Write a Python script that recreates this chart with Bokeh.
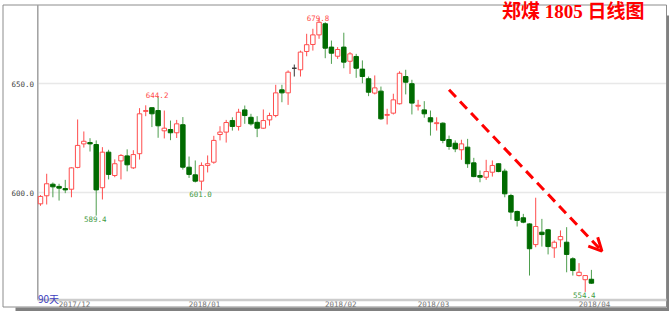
from bokeh.plotting import figure
from bokeh.models import Range1d, Arrow, OpenHead, ColumnDataSource
from bokeh.embed import file_html
from bokeh.resources import INLINE
from bokeh.core.properties import value

# ---------------- data ----------------
opens = [594.8, 598.5, 603.8, 602.8, 601.8, 601.5, 611.5, 622.3, 622.9, 622.0,
         602.2, 618.5, 607.8, 614.5, 616.8, 611.3, 617.8, 637.2, 638.9, 637.6,
         628.3, 628.9, 627.4, 631.1, 611.6, 608.1, 605.2, 612.4, 613.9, 626.6,
         627.7, 633.0, 630.3, 637.9, 634.5, 632.2, 629.5, 633.3, 635.3, 647.1,
         645.7, 657.0, 656.3, 664.7, 667.9, 672.3, 677.4, 666.7, 662.5, 666.7,
         660.2, 662.4, 656.6, 652.2, 645.6, 646.5, 635.4, 636.4, 640.7, 653.2,
         649.9, 639.6, 637.9, 634.3, 631.6, 631.8, 624.3, 622.6, 619.6, 620.8,
         613.6, 607.8, 607.0, 609.3, 613.2, 609.8, 598.6, 591.3, 588.4, 585.6,
         576.1, 581.8, 582.9, 574.6, 578.3, 577.2, 569.6, 561.9, 560.0, 560.2]
closes = [598.2, 604.0, 602.6, 602.0, 601.2, 611.3, 621.6, 623.5, 622.3, 601.2,
          618.5, 608.3, 613.2, 617.0, 612.7, 617.4, 636.1, 637.6, 636.1, 630.6,
          629.5, 627.4, 631.5, 611.6, 608.3, 605.2, 612.4, 613.2, 623.9, 627.7,
          632.1, 630.3, 636.8, 635.3, 631.5, 629.5, 633.0, 635.3, 645.7, 645.7,
          655.2, 657.0, 664.4, 667.8, 672.3, 678.1, 666.2, 663.9, 665.6, 659.8,
          663.6, 657.0, 653.2, 646.0, 648.0, 633.8, 635.8, 642.5, 654.7, 650.6,
          641.0, 640.0, 636.1, 632.4, 632.0, 623.9, 621.1, 620.0, 622.3, 613.2,
          607.3, 607.0, 609.6, 612.4, 609.6, 599.4, 591.0, 587.2, 586.4, 574.2,
          584.4, 580.7, 575.2, 577.2, 579.8, 571.6, 564.2, 563.4, 561.9, 558.4]
highs = [598.8, 608.6, 604.6, 604.0, 605.8, 611.6, 633.5, 628.0, 624.9, 623.9,
         620.8, 619.6, 615.2, 617.6, 619.8, 619.4, 638.7, 640.0, 639.0, 644.2,
         637.6, 633.0, 633.3, 634.6, 616.5, 614.7, 613.8, 617.0, 626.0, 630.4,
         633.3, 634.5, 638.4, 639.9, 636.1, 635.0, 638.1, 636.6, 649.4, 649.4,
         656.0, 658.7, 665.1, 672.8, 675.1, 679.8, 678.1, 669.7, 666.7, 673.3,
         664.4, 663.6, 660.6, 653.2, 653.7, 648.6, 638.4, 645.3, 655.6, 656.3,
         651.7, 642.5, 641.9, 637.6, 634.5, 632.2, 626.1, 623.9, 624.2, 624.6,
         615.9, 610.1, 615.0, 614.7, 613.4, 610.9, 599.4, 591.7, 590.2, 585.9,
         597.6, 587.9, 583.3, 578.0, 582.6, 584.1, 570.3, 567.6, 561.9, 564.5]
lows = [593.9, 594.5, 597.8, 596.3, 599.7, 597.8, 611.1, 620.6, 618.8, 589.4,
        596.8, 606.0, 607.0, 606.0, 609.7, 610.8, 615.1, 635.0, 630.0, 625.1,
        624.8, 624.0, 625.0, 610.5, 606.7, 604.6, 601.0, 609.2, 613.2, 623.9,
        622.9, 628.4, 628.4, 631.5, 630.7, 625.4, 629.2, 630.7, 634.5, 641.4,
        640.2, 653.2, 653.2, 662.5, 665.1, 670.5, 661.6, 659.0, 661.3, 657.0,
        654.4, 652.6, 650.1, 644.2, 645.0, 633.3, 631.2, 635.8, 640.4, 645.0,
        635.8, 637.6, 634.3, 626.1, 628.4, 622.6, 619.6, 618.5, 615.0, 611.3,
        607.0, 604.7, 605.8, 607.3, 609.3, 597.8, 587.5, 584.4, 585.9, 561.9,
        574.9, 575.2, 571.6, 570.0, 574.9, 563.4, 561.9, 561.5, 554.4, 558.1]

month_labels = ["2017/12", "2018/01", "2018/02", "2018/03", "2018/04"]
month_pos = [5.5, 26.5, 48.5, 63.5, 89.5]
price_ticks = [600, 650]
marked_high_idx = [19, 45]
marked_low_idx = [9, 26, 88]
trend_start = (66.0, 647.1)
trend_end = (90.7, 573.1)
title_text = "郑煤 1805 日线图"
span_text = "90天"

# ---------------- layout helpers (pixel <-> data) ----------------
W, H = 669, 311
PX_FIRST = 40.0     # pixel x of first candle
PXU = 6.19          # pixels per candle
PY_650 = 83.0       # pixel y of price 650
PYU = 2.18          # pixels per price unit


def px2x(px):
    return (px - PX_FIRST) / PXU


def py2y(py):
    return 650 - (py - PY_650) / PYU


UP = "#ff4d4d"
DOWN_BODY = "#006b00"
DOWN_WICK = "#4e9e4e"
FLAT = "#333333"

n = len(opens)
idx = list(range(n))
body_top, body_bot, fills, lines, wicks = [], [], [], [], []
for o, c in zip(opens, closes):
    body_top.append(max(o, c))
    body_bot.append(min(o, c))
    if c > o:
        fills.append("white"); lines.append(UP); wicks.append(UP)
    elif c < o:
        fills.append(DOWN_BODY); lines.append(DOWN_BODY); wicks.append(DOWN_WICK)
    else:
        fills.append(FLAT); lines.append(FLAT); wicks.append(FLAT)

src = ColumnDataSource(dict(x=idx, o=opens, c=closes, h=highs, l=lows,
                            top=body_top, bot=body_bot, fill=fills,
                            line=lines, wick=wicks))

p = figure(width=W, height=H,
           x_range=Range1d(px2x(0), px2x(W)), y_range=Range1d(py2y(H), py2y(0)),
           output_backend="svg", toolbar_location=None,
           x_axis_location=None, y_axis_location=None,
           min_border_left=0, min_border_right=0, min_border_top=0,
           min_border_bottom=0)
p.outline_line_color = None
p.background_fill_color = "white"
p.border_fill_color = "white"
p.xgrid.visible = False
p.ygrid.visible = False

# outer frame with drop shadow
p.quad(left=[px2x(666.5), px2x(15)], right=[px2x(670), px2x(670)],
       top=[py2y(15), py2y(307)], bottom=[py2y(310.5), py2y(310.5)],
       fill_color="#808080", line_color=None)
p.quad(left=[px2x(2.5)], right=[px2x(666)], top=[py2y(4.5)], bottom=[py2y(306.5)],
       fill_color="white", line_color="#8c8c8c", line_width=1)

# horizontal grid lines
p.segment(x0=[px2x(38)] * len(price_ticks), y0=price_ticks,
          x1=[px2x(665.5)] * len(price_ticks), y1=price_ticks,
          line_color="#e8e8e8", line_width=1.5)

# axis lines
p.segment(x0=[px2x(37.3)], y0=[py2y(4.5)], x1=[px2x(37.3)], y1=[py2y(299.5)],
          line_color="#a0a0a0", line_width=1.5)
p.segment(x0=[px2x(37)], y0=[py2y(299.6)], x1=[px2x(666)], y1=[py2y(299.6)],
          line_color="#cccccc", line_width=2.5)

# tick labels
p.text(x=[px2x(33.5)] * len(price_ticks), y=price_ticks,
       text=["%.1f" % t for t in price_ticks],
       text_font=value("DejaVu Sans Mono"), text_font_size="7.5px",
       text_color="#444444", text_align="right", text_baseline="middle")
p.text(x=month_pos, y=[py2y(304)] * len(month_pos), text=month_labels,
       text_font=value("DejaVu Sans Mono"), text_font_size="7.5px",
       text_color="#777777", text_align="center", text_baseline="middle")

# candles
p.segment(x0="x", y0="h", x1="x", y1="l", line_color="wick", line_width=1, source=src)
p.vbar(x="x", width=0.72, top="top", bottom="bot", fill_color="fill",
       line_color="line", line_width=1, source=src)

# extreme value labels
p.text(x=[idx[i] for i in marked_high_idx], y=[highs[i] for i in marked_high_idx],
       text=["%.1f" % highs[i] for i in marked_high_idx],
       text_font=value("DejaVu Sans Mono"), text_font_size="7.5px",
       text_color="#ff4d4d", text_align="center", text_baseline="alphabetic",
       y_offset=-1, x_offset=-1)
p.text(x=[idx[i] for i in marked_low_idx], y=[lows[i] for i in marked_low_idx],
       text=["%.1f" % lows[i] for i in marked_low_idx],
       text_font=value("DejaVu Sans Mono"), text_font_size="7.5px",
       text_color="#3f9a3f", text_align="center", text_baseline="top",
       y_offset=0.5, x_offset=-1)

# trend arrow
p.add_layout(Arrow(end=OpenHead(size=13, line_color="#ff0000", line_width=3),
                   x_start=trend_start[0], y_start=trend_start[1],
                   x_end=trend_end[0], y_end=trend_end[1],
                   line_color="#ff0000", line_width=3, line_dash="10 6"))

# title and span label
p.text(x=[px2x(501.5)], y=[py2y(11)], text=[title_text],
       text_font=value("Liberation Serif, Noto Sans CJK SC"),
       text_font_style="bold", text_font_size="19px",
       text_color="#ff0000", text_align="left", text_baseline="middle")
p.text(x=[px2x(37.5)], y=[py2y(297.5)], text=[span_text],
       text_font=value("Noto Sans CJK SC"), text_font_size="10px",
       text_color="#4040c0", text_align="left", text_baseline="alphabetic")

open("out.html", "w").write(file_html(p, INLINE))
